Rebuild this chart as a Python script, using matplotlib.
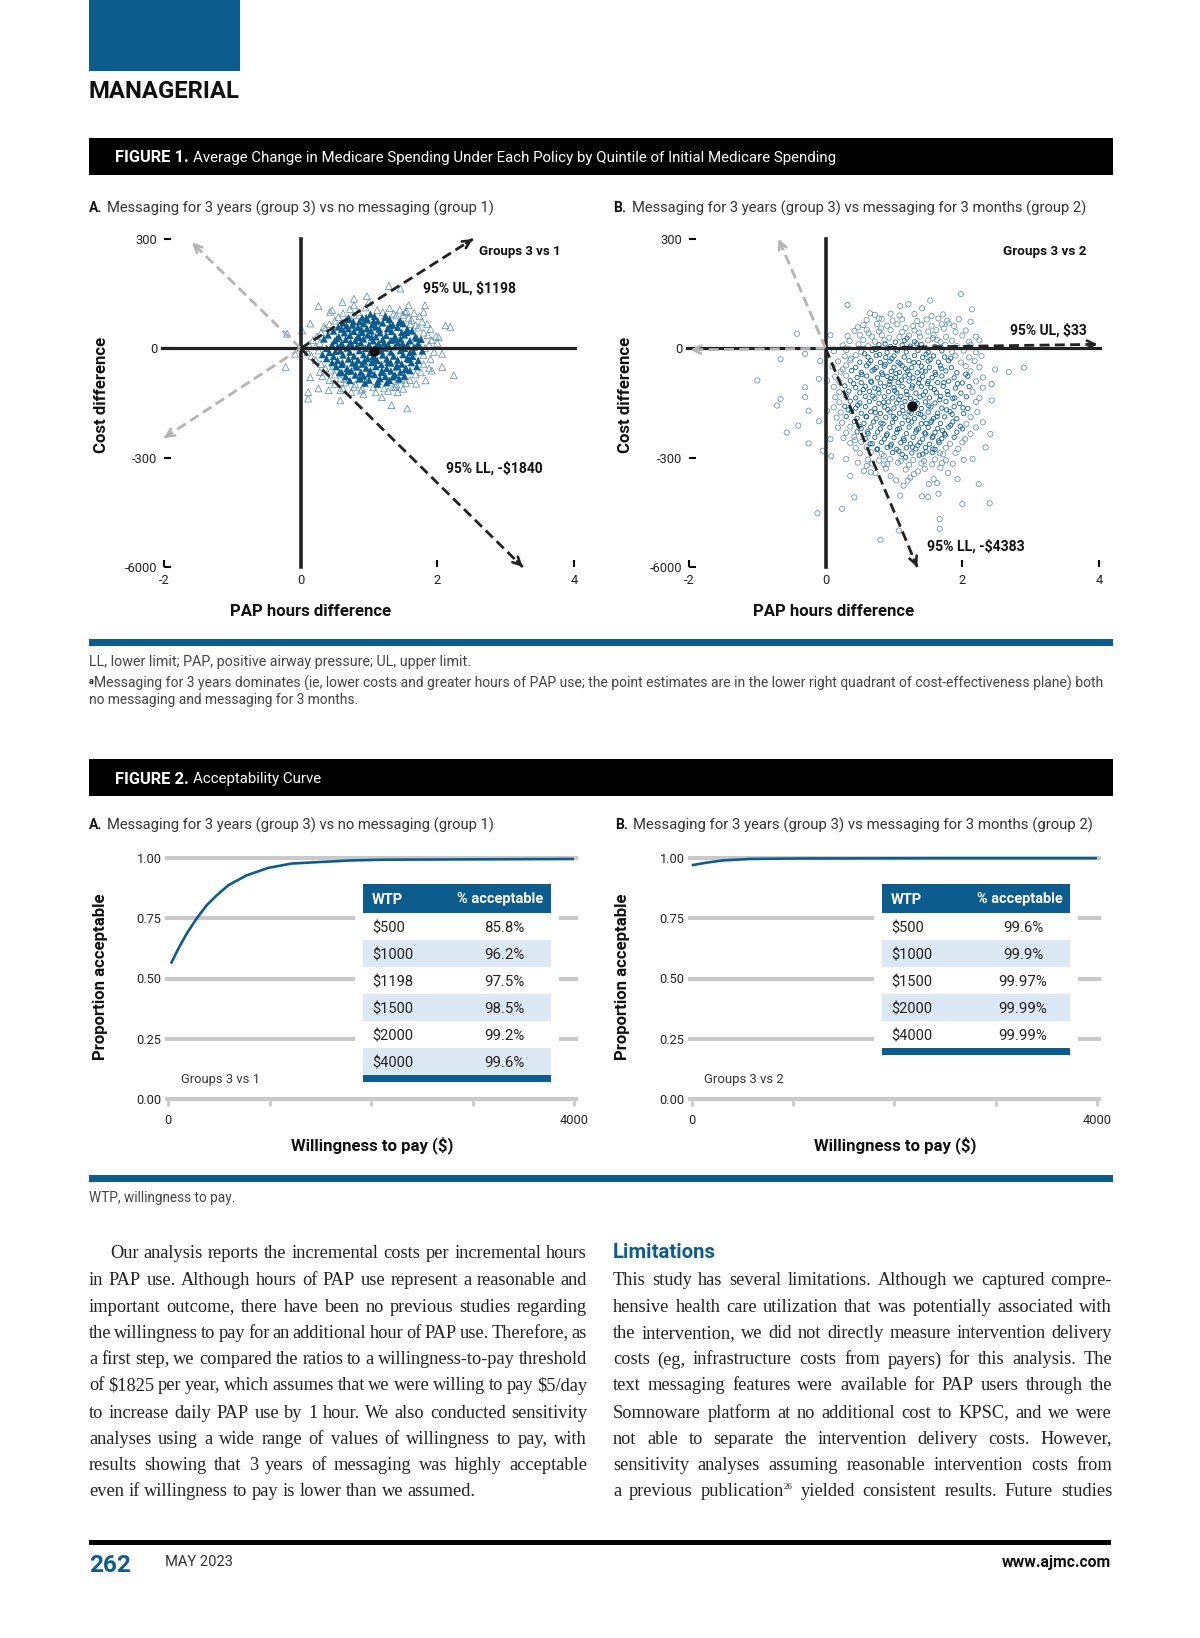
import numpy as np
import matplotlib
matplotlib.use('Agg')
import matplotlib.pyplot as plt
from matplotlib.patches import Rectangle

plt.rcParams['font.family'] = ['Roboto', 'DejaVu Sans']

W, H = 1200, 1638
BLUE = '#0d5c8e'
PALE = '#dce9f5'
GRID = '#c9c9c9'
DARK = '#222222'
ARROW_GREY = '#b4b4b4'
OUTER = '#5f8fac'

# ---- data ----
cost_ticks = [300, 0, -300, -6000]
cost_labels = ['300', '0', '-300', '-6000']
hour_ticks = [-2, 0, 2, 4]
hour_labels = ['-2', '0', '2', '4']

# point estimates (hours, cost)
mean_a = (1.07, -8)
mean_b = (1.26, -157)

# ends of the interval arrows (hours, cost)
ul_a = (2.52, 300)
ll_a = (3.25, -6000)
grey_a = [(-1.59, 290), (-2.0, -246)]
ul_b = (3.98, 11)
ll_b = (1.34, -6000)
grey_b = [(-0.69, 300), (-1.98, -4)]

# bootstrap replicates, group 3 vs 1
points_a = [
    (1.29,171),(1.46,164),(0.26,116),(0.61,127),(0.78,136),(0.97,143),(0.43,100),(0.46,105),(0.78,118),(1.0,127),
    (1.82,118),(1.80,100),(1.58,118),(1.53,100),(2.19,59),(2.12,63),(2.02,31),(2.24,-74),(2.07,-15),(2.07,-51),
    (1.92,-61),(1.69,-97),(1.83,-88),(-0.22,-51),(-0.2,40),(-0.08,-15),(0.02,49),(0.14,68),(0.14,-79),(0.11,-138),
    (0.11,-120),(0.26,-110),(0.41,-115),(0.58,-143),(0.58,-115),(0.92,-125),(1.19,-134),(1.33,-156),(1.56,-165),(1.39,-106),
    (0.34,59),(0.72,108),(0.95,112),(1.12,105),(1.3,110),(1.45,106),(1.55,102),(0.62,96),(0.84,100),(1.02,94),
    (1.2,99),(1.36,95),(1.5,92),(1.66,97),(0.55,86),(0.78,90),(0.9,84),(1.08,88),(1.25,85),(1.4,90),
    (1.58,84),(1.74,88),(0.5,76),(0.7,80),(0.86,74),(0.98,78),(1.13,75),(1.3,80),(1.46,74),(1.62,78),
    (1.78,73),(0.42,66),(0.62,70),(0.76,64),(0.92,68),(1.05,65),(1.2,70),(1.35,64),(1.5,68),(1.68,63),
    (1.85,67),(0.36,55),(0.55,59),(0.7,54),(0.84,58),(0.97,55),(1.1,59),(1.27,54),(1.42,58),(1.56,53),
    (1.72,57),(1.9,53),(0.3,44),(0.48,48),(0.64,43),(0.78,47),(0.9,44),(1.03,48),(1.16,43),(1.33,47),
    (1.48,44),(1.63,48),(1.8,43),(0.24,33),(0.4,37),(0.56,32),(0.72,36),(0.85,33),(0.98,37),(1.1,32),
    (1.25,36),(1.38,33),(1.52,37),(1.68,32),(1.86,36),(1.98,33),(0.18,22),(0.34,26),(0.5,21),(0.66,25),
    (0.8,22),(0.92,26),(1.06,21),(1.2,25),(1.32,22),(1.46,26),(1.6,21),(1.76,25),(1.92,22),(0.12,11),
    (0.28,15),(0.46,10),(0.6,14),(0.74,11),(0.88,15),(1.0,10),(1.14,14),(1.28,11),(1.42,15),(1.56,10),
    (1.72,14),(1.88,11),(2.0,15),(0.08,1),(0.22,5),(0.38,0),(0.54,4),(0.68,1),(0.82,5),(0.95,0),
    (1.1,4),(1.24,1),(1.38,5),(1.52,0),(1.66,4),(1.82,1),(0.1,-10),(0.26,-6),(0.42,-11),(0.58,-7),
    (0.72,-10),(0.86,-6),(1.02,-11),(1.18,-7),(1.32,-10),(1.46,-6),(1.6,-11),(1.78,-7),(1.95,-10),(0.16,-21),
    (0.32,-17),(0.48,-22),(0.62,-18),(0.78,-21),(0.92,-17),(1.06,-22),(1.2,-18),(1.36,-21),(1.5,-17),(1.64,-22),
    (1.8,-18),(0.22,-32),(0.38,-28),(0.54,-33),(0.7,-29),(0.84,-32),(0.98,-28),(1.12,-33),(1.26,-29),(1.42,-32),
    (1.56,-28),(1.72,-33),(1.9,-29),(0.3,-43),(0.46,-39),(0.6,-44),(0.76,-40),(0.9,-43),(1.04,-39),(1.18,-44),
    (1.32,-40),(1.48,-43),(1.62,-39),(1.8,-44),(0.36,-54),(0.52,-50),(0.68,-55),(0.82,-51),(0.96,-54),(1.1,-50),
    (1.26,-55),(1.4,-51),(1.54,-54),(1.7,-50),(1.88,-55),(0.28,-65),(0.44,-61),(0.6,-66),(0.74,-62),(0.88,-65),
    (1.02,-61),(1.18,-66),(1.32,-62),(1.46,-65),(1.6,-61),(1.76,-66),(0.32,-76),(0.5,-72),(0.66,-77),(0.8,-73),
    (0.92,-76),(1.08,-72),(1.24,-77),(1.38,-73),(1.52,-76),(1.68,-72),(0.42,-87),(0.58,-83),(0.72,-88),(0.86,-84),
    (1.0,-87),(1.16,-83),(1.3,-88),(1.44,-84),(1.6,-87),(0.5,-98),(0.66,-94),(0.8,-99),(0.94,-95),(1.12,-98),
    (1.26,-94),(1.4,-99),(1.54,-95),(0.62,-110),(0.78,-106),(0.9,-111),(1.06,-107),(1.22,-110),(1.36,-106),(1.5,-111),
    (0.74,-120),(0.88,-116),(1.1,-121),(1.28,-117),(1.42,-120),
    # second pass over the blob
    (0.53,27),(0.61,-39),(0.67,62),(0.69,-62),(0.73,17),(0.77,73),(0.81,-46),(0.83,30),(0.87,-81),(0.89,52),
    (0.93,-35),(0.96,84),(1.0,-70),(1.04,31),(1.07,74),(1.09,-29),(1.13,-90),(1.15,53),(1.19,-61),(1.22,15),
    (1.24,89),(1.28,-38),(1.31,63),(1.35,-78),(1.37,25),(1.41,-47),(1.44,72),(1.47,-88),(1.49,14),(1.53,-58),
    (1.55,44),(1.59,-30),(1.61,66),(1.65,-9),(1.7,28),(0.64,-85),(0.7,84),(0.57,-66),(0.6,53),(0.51,-8),
]

# bootstrap replicates, group 3 vs 2
points_b = [
    (0.32,119),(0.65,96),(0.78,82),(1.09,116),(1.21,121),(1.41,110),(1.53,131),(1.98,149),(2.14,107),(2.12,73),
    (1.8,68),(1.65,82),(-0.42,40),(0.07,36),(-0.66,-30),(-1.0,-88),(-0.66,-139),(-0.71,-157),(-0.3,-107),(-0.3,-134),
    (-0.25,-171),(-0.1,-200),(-0.4,-212),(-0.57,-231),(-0.25,-261),(-0.08,-35),(-0.3,-15),(-0.1,-84),(0.02,-88),(0.02,-171),
    (0.07,-249),(-0.04,-281),(0.08,-296),(2.9,-53),(2.68,-65),(2.48,-58),(2.43,-98),(2.43,-143),(2.41,-235),(2.34,-272),
    (0.36,-1250),(0.42,-2370),(0.24,-2970),(-0.12,-3200),(0.8,-4580),(1.07,-4100),(1.67,-3500),(1.67,-4010),(2.0,-2720),(2.4,-2680),
    (2.24,-1680),(1.93,-1420),(1.41,-2320),(1.65,-2180),(1.09,-2280),(1.63,-1620),(1.51,-1680),(1.29,-1160),(1.14,-1760),(0.6,-730),
    (0.56,-990),(0.95,-1250),(1.68,-820),(1.58,-1420),(1.24,-1340),(0.85,-650),
    (0.72,92),(0.95,95),(1.08,90),(1.3,94),(1.55,89),(1.72,93),(0.6,78),(0.82,81),(0.98,76),(1.12,80),
    (1.34,75),(1.48,79),(1.78,76),(1.95,80),(0.55,64),(0.75,67),(0.9,62),(1.05,66),(1.28,61),(1.4,65),
    (1.55,62),(1.7,66),(1.88,61),(0.42,48),(0.6,51),(0.78,46),(0.95,50),(1.12,45),(1.3,49),(1.5,46),
    (1.62,50),(1.9,45),(2.05,49),(0.32,34),(0.5,37),(0.68,32),(0.82,36),(1.08,31),(1.22,35),(1.38,32),
    (1.58,36),(1.76,31),(2.0,35),(2.2,32),(0.35,20),(0.55,23),(0.72,18),(0.86,22),(1.02,17),(1.15,21),
    (1.3,18),(1.5,22),(1.68,17),(1.85,21),(2.1,18),(2.25,22),(0.25,8),(0.48,11),(0.62,6),(0.78,10),
    (0.95,5),(1.12,9),(1.24,6),(1.4,10),(1.6,5),(1.75,9),(1.92,6),(2.12,10),(0.12,-8),(0.3,-5),
    (0.52,-10),(0.68,-6),(0.9,-11),(1.05,-7),(1.18,-10),(1.35,-6),(1.5,-11),(1.7,-7),(1.85,-10),(2.02,-6),
    (2.2,-11),(0.28,-22),(0.44,-19),(0.62,-24),(0.74,-20),(0.88,-25),(1.0,-21),(1.15,-24),(1.3,-20),(1.42,-25),
    (1.58,-21),(1.74,-24),(1.9,-20),(2.1,-25),(2.28,-21),(0.18,-36),(0.36,-33),(0.5,-38),(0.66,-34),(0.8,-39),
    (0.94,-35),(1.06,-38),(1.22,-34),(1.36,-39),(1.5,-35),(1.65,-38),(1.8,-34),(1.98,-39),(2.18,-35),(0.1,-50),
    (0.3,-47),(0.44,-52),(0.6,-48),(0.74,-53),(0.86,-49),(1.0,-52),(1.12,-48),(1.26,-53),(1.4,-49),(1.52,-52),
    (1.68,-48),(1.84,-53),(2.05,-49),(2.25,-52),(0.22,-64),(0.38,-61),(0.52,-66),(0.68,-62),(0.82,-67),(0.96,-63),
    (1.08,-66),(1.2,-62),(1.34,-67),(1.46,-63),(1.6,-66),(1.76,-62),(1.92,-67),(2.12,-63),(0.14,-78),(0.3,-75),
    (0.46,-80),(0.6,-76),(0.76,-81),(0.9,-77),(1.02,-80),(1.16,-76),(1.28,-81),(1.42,-77),(1.56,-80),(1.7,-76),
    (1.88,-81),(2.08,-77),(2.3,-80),(0.2,-92),(0.36,-89),(0.52,-94),(0.66,-90),(0.8,-95),(0.94,-91),(1.06,-94),
    (1.22,-90),(1.36,-95),(1.5,-91),(1.64,-94),(1.8,-90),(2.0,-95),(2.2,-91),(0.12,-106),(0.28,-103),(0.44,-108),
    (0.58,-104),(0.72,-109),(0.86,-105),(1.0,-108),(1.12,-104),(1.26,-109),(1.4,-105),(1.54,-108),(1.72,-104),(1.9,-109),
    (2.1,-105),(2.3,-108),(0.2,-120),(0.34,-117),(0.5,-122),(0.64,-118),(0.78,-123),(0.92,-119),(1.04,-122),(1.18,-118),
    (1.32,-123),(1.46,-119),(1.62,-122),(1.78,-118),(1.98,-123),(2.15,-119),(0.14,-134),(0.3,-131),(0.44,-136),(0.58,-132),
    (0.72,-137),(0.86,-133),(0.98,-136),(1.1,-132),(1.24,-137),(1.38,-133),(1.52,-136),(1.68,-132),(1.86,-137),(2.06,-133),
    (2.25,-136),(0.2,-148),(0.36,-145),(0.5,-150),(0.64,-146),(0.78,-151),(0.92,-147),(1.04,-150),(1.16,-146),(1.34,-151),
    (1.46,-147),(1.6,-150),(1.76,-146),(1.96,-151),(2.2,-147),(0.12,-162),(0.28,-159),(0.44,-164),(0.58,-160),(0.72,-165),
    (0.86,-161),(1.0,-164),(1.12,-160),(1.4,-165),(1.54,-161),(1.7,-164),(1.88,-160),(2.08,-165),(0.22,-176),(0.38,-173),
    (0.52,-178),(0.66,-174),(0.8,-179),(0.94,-175),(1.08,-178),(1.22,-174),(1.36,-179),(1.5,-175),(1.64,-178),(1.82,-174),
    (2.02,-179),(2.22,-175),(0.16,-190),(0.3,-187),(0.46,-192),(0.6,-188),(0.74,-193),(0.88,-189),(1.02,-192),(1.16,-188),
    (1.3,-193),(1.44,-189),(1.58,-192),(1.74,-188),(1.92,-193),(2.12,-189),(0.24,-204),(0.42,-201),(0.56,-206),(0.7,-202),
    (0.84,-207),(0.98,-203),(1.12,-206),(1.26,-202),(1.4,-207),(1.54,-203),(1.68,-206),(1.86,-202),(2.06,-207),(2.3,-203),
    (0.18,-218),(0.36,-215),(0.52,-220),(0.66,-216),(0.8,-221),(0.94,-217),(1.08,-220),(1.22,-216),(1.36,-221),(1.5,-217),
    (1.64,-220),(1.8,-216),(2.0,-221),(2.2,-217),(0.3,-232),(0.46,-229),(0.62,-234),(0.76,-230),(0.9,-235),(1.04,-231),
    (1.18,-234),(1.32,-230),(1.46,-235),(1.6,-231),(1.74,-234),(1.92,-230),(2.12,-235),(0.26,-246),(0.42,-243),(0.58,-248),
    (0.72,-244),(0.86,-249),(1.0,-245),(1.14,-248),(1.28,-244),(1.42,-249),(1.56,-245),(1.7,-248),(1.88,-244),(2.04,-249),
    (0.36,-260),(0.52,-257),(0.68,-262),(0.82,-258),(0.96,-263),(1.1,-259),(1.24,-262),(1.38,-258),(1.52,-263),(1.66,-259),
    (1.82,-262),(2.0,-258),(0.44,-274),(0.6,-271),(0.76,-276),(0.9,-272),(1.04,-277),(1.18,-273),(1.32,-276),(1.46,-272),
    (1.6,-277),(1.76,-273),(1.94,-276),(0.5,-288),(0.66,-285),(0.82,-290),(0.98,-286),(1.12,-291),(1.26,-287),(1.42,-290),
    (1.56,-286),(1.72,-291),(1.9,-287),(0.62,-400),(0.78,-450),(0.94,-380),(1.1,-470),(1.28,-420),(1.44,-480),(1.6,-390),
    (1.76,-440),(0.68,-600),(0.9,-640),(1.06,-560),(1.22,-680),(1.4,-600),(1.56,-650),(1.7,-580),
    # second pass over the crowded middle
    (0.63,-41),(0.71,-58),(0.79,-17),(0.83,-72),(0.87,-44),(0.93,-99),(0.97,-28),(1.01,-116),(1.03,-69),(1.07,-141),
    (1.09,-42),(1.11,-87),(1.13,-171),(1.17,-56),(1.19,-127),(1.21,-198),(1.23,-73),(1.27,-103),(1.29,-39),(1.31,-146),
    (1.33,-224),(1.37,-85),(1.39,-181),(1.41,-62),(1.43,-128),(1.47,-206),(1.49,-97),(1.51,-158),(1.53,-31),(1.57,-241),
    (1.59,-113),(1.61,-72),(1.63,-187),(1.67,-141),(1.69,-55),(1.71,-226),(1.73,-94),(1.77,-169),(1.79,-127),(1.83,-211),
    (0.67,-93),(0.69,-131),(0.73,-177),(0.77,-112),(0.81,-205),(0.85,-148),(0.89,-239),(0.91,-168),(0.95,-83),(0.99,-187),
    (1.05,-223),(1.15,-253),(1.25,-178),(1.35,-266),(1.45,-232),(1.55,-199),(1.65,-254),(1.75,-238),(0.59,-187),(0.55,-113),
    (0.61,-229),(0.53,-72),(0.65,-262),(0.47,-156),(0.75,-278),(0.49,-214),(0.85,-295),(0.41,-97),(0.95,-268),(1.07,-282),
    (1.17,-299),(1.27,-271),(1.37,-293),(1.47,-284),(1.57,-276),(1.67,-288),(1.85,-181),(1.89,-136),(1.93,-97),(1.97,-214),
    (2.01,-163),(2.05,-71),(0.25,-58),(0.33,-169),(0.37,-28),(0.43,-252),(0.57,-15),(0.73,-3),(0.87,12),(1.03,-4),
    (1.19,28),(1.33,13),(1.47,-16),(1.63,23),(1.83,-27),(0.47,58),(0.63,41),(0.81,55),(0.93,29),(1.17,56),
    (1.37,43),(1.57,28),(1.73,54),(0.73,-1100),(1.03,-1480),(1.35,-1020),(1.45,-880),(1.17,-920),(0.88,-870),(1.79,-1100),
    (0.66,-1070),(1.5,-2350),(1.2,-1500),(1.86,-620),(2.02,-410),(0.3,-380),(0.47,-560),(2.15,-360),
]

wtp_ticks = [0, 1000, 2000, 3000, 4000]
wtp_labels = ['0', '', '', '', '4000']
prop_ticks = [0, 0.25, 0.5, 0.75, 1.0]
prop_labels = ['0.00', '0.25', '0.50', '0.75', '1.00']

curve_a_wtp = [26, 99, 181, 279, 378, 477, 592, 772, 986, 1216, 1479, 1808, 2136, 2794, 3451, 4000]
curve_a_prop = [.562, .624, .686, .749, .804, .845, .887, .928, .959, .977, .983, .990, .993, .994, .995, .996]
curve_b_wtp = [0, 150, 310, 575, 1050, 1700, 2500, 4000]
curve_b_prop = [.970, .981, .990, .996, .998, .9985, .999, .999]

table_a_wtp = ['$500', '$1000', '$1198', '$1500', '$2000', '$4000']
table_a_acc = ['85.8%', '96.2%', '97.5%', '98.5%', '99.2%', '99.6%']
table_b_wtp = ['$500', '$1000', '$1500', '$2000', '$4000']
table_b_acc = ['99.6%', '99.9%', '99.97%', '99.99%', '99.99%']

left_col = [
    'Our analysis reports the incremental costs per incremental hours',
    'in PAP use. Although hours of PAP use represent a reasonable and',
    'important outcome, there have been no previous studies regarding',
    'the willingness to pay for an additional hour of PAP use. Therefore, as',
    'a first step, we compared the ratios to a willingness-to-pay threshold',
    'of $1825 per year, which assumes that we were willing to pay $5/day',
    'to increase daily PAP use by 1 hour. We also conducted sensitivity',
    'analyses using a wide range of values of willingness to pay, with',
    'results showing that 3 years of messaging was highly acceptable',
    'even if willingness to pay is lower than we assumed.',
]
right_col = [
    'This study has several limitations. Although we captured compre-',
    'hensive health care utilization that was potentially associated with',
    'the intervention, we did not directly measure intervention delivery',
    'costs (eg, infrastructure costs from payers) for this analysis. The',
    'text messaging features were available for PAP users through the',
    'Somnoware platform at no additional cost to KPSC, and we were',
    'not able to separate the intervention delivery costs. However,',
    'sensitivity analyses assuming reasonable intervention costs from',
    'a previous publication^26 yielded consistent results. Future studies',
]
line_y = [1254, 1280.5, 1307, 1333.5, 1360, 1386, 1413, 1439, 1466, 1492]

fig = plt.figure(figsize=(W / 100, H / 100), dpi=100, facecolor='white')
renderer = fig.canvas.get_renderer()


def box(x0, y0, x1, y1):
    # pixel box of the reference -> figure fractions
    return [x0 / W, 1 - y1 / H, (x1 - x0) / W, (y1 - y0) / H]


# page layer sits on top of the charts, so the tables can cut the gridlines
page = fig.add_axes([0, 0, 1, 1], zorder=5)
page.set_xlim(0, W)
page.set_ylim(H, 0)
page.axis('off')


def fit(x0, x1, y, s, size=10, **kw):
    # text squeezed to the width it has in the reference
    t = page.text(x0, y + 1, s, va='center', fontsize=size, **kw)
    w = t.get_window_extent(renderer).width
    t.set_fontsize(size * (x1 - x0) / w)
    return t


def rect(x0, y0, x1, y1, color):
    page.add_patch(Rectangle((x0, y0), x1 - x0, y1 - y0, fc=color, ec='none', zorder=1))


def justified(line, x0, x1, y, last=False):
    serif = dict(va='center', family='Liberation Serif', color=DARK)
    words = []
    for w in line.split():
        base, _, sup = w.partition('^')
        t = page.text(0, y, base, fontsize=13.2, **serif)
        s = page.text(0, y - 5, sup, fontsize=6.5, **serif) if sup else None
        wd = t.get_window_extent(renderer).width
        extra = s.get_window_extent(renderer).width if sup else 0
        words.append((t, s, wd, extra))
    total = sum(w[2] + w[3] for w in words)
    gap = 4.5 if last else (x1 - x0 - total) / (len(words) - 1)
    x = x0
    for t, s, wd, extra in words:
        t.set_x(x)
        if s is not None:
            s.set_x(x + wd)
        x += wd + extra + gap


cost_fwd = lambda v: np.interp(v, [-6000, -300, 300], [-600, -300, 300])
cost_inv = lambda v: np.interp(v, [-600, -300, 300], [-6000, -300, 300])


def ce_plane(rect_px, pts, marker, size, mean, black_ends, grey_ends, centre, radii, filled):
    ax = fig.add_axes(box(*rect_px))
    ax.set_xlim(-2, 4)
    ax.set_yscale('function', functions=(cost_fwd, cost_inv))
    ax.set_ylim(-6000, 300)
    for s in ax.spines.values():
        s.set_visible(False)
    ax.patch.set_alpha(0)
    ax.set_xticks(hour_ticks, hour_labels)
    ax.set_yticks(cost_ticks, cost_labels)
    ax.minorticks_off()
    ax.tick_params(direction='in', length=5, width=1.5, color='black', labelsize=9.3, labelcolor=DARK, pad=5)
    ax.plot([-2.03, 4.02], [0, 0], color=DARK, lw=2.3, clip_on=False, zorder=3)
    ax.plot([0, 0], [-6000, 300], color=DARK, lw=2.6, clip_on=False, zorder=3)
    h, c = np.array(pts).T
    # the crowded middle prints darker than the stragglers
    mid = ((h - centre[0]) / radii[0]) ** 2 + ((c - centre[1]) / radii[1]) ** 2 < 1
    ax.scatter(h[~mid], c[~mid], marker=marker, s=size, facecolor='none', edgecolor=OUTER, linewidth=0.55, zorder=2)
    if filled:
        ax.scatter(h[mid], c[mid], marker=marker, s=size * 1.25, facecolor=BLUE, edgecolor='none', zorder=2.1)
    else:
        ax.scatter(h[mid], c[mid], marker=marker, s=size * 0.7, facecolor='none', edgecolor=BLUE, linewidth=0.6, zorder=2.1)
    to_px = ax.transData.transform
    for ends, col in [(grey_ends, ARROW_GREY), (black_ends, DARK)]:
        for e in ends:
            ax.plot([0, e[0]], [0, e[1]], color=col, lw=2.0, dashes=(3.6, 1.9), clip_on=False, zorder=4)
            # solid head only, the shaft is dashed
            a, b = to_px((0, 0)), to_px(e)
            near = b - (b - a) / np.hypot(*(b - a)) * 8
            ax.annotate('', xy=e, xytext=near, textcoords='figure pixels', annotation_clip=False, zorder=5,
                        arrowprops=dict(arrowstyle='->', color=col, lw=1.9, mutation_scale=14, shrinkA=0, shrinkB=0))
    ax.plot(*mean, 'o', color='#111111', ms=6.5, zorder=6)
    return ax


ce_plane((164, 239, 574, 567), points_a, '^', 24, mean_a, [ul_a, ll_a], grey_a, (1.05, -2), (0.76, 98), True)
ce_plane((689, 239, 1099, 567), points_b, 'o', 14, mean_b, [ul_b, ll_b], grey_b, (1.2, -135), (0.95, 165), False)


def accept(rect_px, xlim, wtp, prop):
    ax = fig.add_axes(box(*rect_px))
    ax.set_xlim(*xlim)
    ax.set_ylim(0, 1)
    for s in ax.spines.values():
        s.set_visible(False)
    ax.patch.set_alpha(0)
    ax.set_xticks(wtp_ticks, wtp_labels)
    ax.set_yticks(prop_ticks, prop_labels)
    ax.tick_params(axis='x', length=5, width=1.9, color=GRID, labelsize=9.2, labelcolor=DARK, pad=6)
    ax.tick_params(axis='y', length=0, labelsize=9.2, labelcolor=DARK, pad=4)
    ax.grid(axis='y', color=GRID, lw=2.9)
    ax.grid(axis='x', visible=False)
    ax.set_axisbelow(True)
    for g in ax.get_ygridlines():
        g.set_clip_on(False)
    ax.plot(wtp, prop, color=BLUE, lw=1.9, clip_on=False, solid_capstyle='butt')
    return ax


accept((167, 858, 576, 1099), (-13, 4020), curve_a_wtp, curve_a_prop)
accept((690, 858, 1099, 1099), (-17, 4020), curve_b_wtp, curve_b_prop)


def wtp_table(x0, x1, wtp, acc, xw, xh0, xh1, xv):
    rect(x0 - 8, 884, x1 + 8, 912 + 27 * len(wtp) + 7, 'white')
    rect(x0, 884, x1, 913, BLUE)
    page.text(xw, 903.5, 'WTP', color='white', fontweight='bold', fontsize=10.5, zorder=2)
    t = fit(xh0, xh1, 898.5, '% acceptable', color='white', fontweight='bold', zorder=2)
    t.set_va('baseline')
    t.set_y(903.5)
    for i, (a, b) in enumerate(zip(wtp, acc)):
        y = 913 + 27 * i
        if i % 2:
            rect(x0, y, x1, y + 27, PALE)
        page.text(xw, y + 19.4, a, color=DARK, fontsize=10.5, zorder=2)
        page.text(xv, y + 19.4, b, color=DARK, fontsize=10.8, ha='center', zorder=2)
    y = 913 + 27 * len(wtp)
    rect(x0, y, x1, y + 7, BLUE)


wtp_table(363, 551, table_a_wtp, table_a_acc, 372, 457, 544, 504)
wtp_table(882, 1070, table_b_wtp, table_b_acc, 891, 977, 1063, 1023)

# ---- page furniture ----
rect(89, 0, 240, 71, BLUE)
fit(89, 240, 91, 'MANAGERIAL', size=16, fontweight='bold', color='#111111')

for y0, num, title, x1 in [(138, 'FIGURE 1.', 'Average Change in Medicare Spending Under Each Policy by Quintile of Initial Medicare Spending', 835),
                           (759, 'FIGURE 2.', 'Acceptability Curve', 321)]:
    rect(89, y0, 1113, y0 + 37, 'black')
    fit(115, 189, y0 + 19, num, fontweight='bold', color='white', zorder=2)
    fit(193, x1, y0 + 19, title, color='white', zorder=2)

head_a = 'Messaging for 3 years (group 3) vs no messaging (group 1)'
head_b = 'Messaging for 3 years (group 3) vs messaging for 3 months (group 2)'
for y, xb, xt0, xt1 in [(207, 613, 632, 1090), (824, 615, 633, 1093)]:
    page.text(89, y + 1, 'A.', fontweight='bold', fontsize=10, va='center', color='#111111')
    fit(107, 496, y, head_a, color='#333333')
    page.text(xb, y + 1, 'B.', fontweight='bold', fontsize=10, va='center', color='#111111')
    fit(xt0, xt1, y, head_b, color='#333333')

bold_label = dict(ha='center', va='center', fontweight='bold', fontsize=12.1, color='#111111')
for x in (102, 626):
    page.text(x, 395, 'Cost difference', rotation=90, **bold_label)
for x in (311, 834):
    page.text(x, 611, 'PAP hours difference', **bold_label)
for x in (100, 623):
    page.text(x, 977, 'Proportion acceptable', rotation=90, **bold_label)
for x in (372, 895):
    page.text(x, 1145, 'Willingness to pay ($)', **bold_label)

fit(479, 561, 251, 'Groups 3 vs 1', fontweight='bold', color='#111111')
fit(423, 516, 287, '95% UL, $1198', fontweight='bold', color='#111111')
fit(446, 543, 467, '95% LL, -$1840', fontweight='bold', color='#111111')
fit(1003, 1086, 251, 'Groups 3 vs 2', fontweight='bold', color='#111111')
fit(1010, 1087, 329, '95% UL, $33', fontweight='bold', color='#111111')
fit(927, 1024, 545, '95% LL, -$4383', fontweight='bold', color='#111111')
fit(181, 260, 1079, 'Groups 3 vs 1', color='#333333')
fit(704, 784, 1079, 'Groups 3 vs 2', color='#333333')

rect(89, 639, 1113, 646, BLUE)
rect(89, 1175, 1113, 1182, BLUE)

fit(89, 470, 661, 'LL, lower limit; PAP, positive airway pressure; UL, upper limit.', color='#444444')
page.text(89, 681, 'a', fontsize=6.5, fontweight='bold', va='center', color='#222222')
fit(94, 1102, 682, 'Messaging for 3 years dominates (ie, lower costs and greater hours of PAP use; the point estimates are in the lower right quadrant of cost-effectiveness plane) both', color='#444444')
fit(89, 358, 699, 'no messaging and messaging for 3 months.', color='#444444')
fit(89, 235, 1197, 'WTP, willingness to pay.', color='#444444')

# ---- running text ----
for i, (line, y) in enumerate(zip(left_col, line_y)):
    justified(line, 110 if i == 0 else 89, 587, y, last=i == len(left_col) - 1)
page.text(613, 1252, 'Limitations', fontsize=14.7, fontweight='bold', color=BLUE, va='center')
for line, y in zip(right_col, line_y[1:]):
    justified(line, 613, 1112, y)

rect(89, 1540, 1111, 1545, 'black')
page.text(89, 1566, '262', fontsize=17.5, fontweight='bold', color=BLUE, va='center')
fit(165, 233, 1561, 'MAY 2023', color='#333333')
page.text(1111, 1562, 'www.ajmc.com', fontsize=11.3, fontweight='bold', ha='right', va='center', color='#111111')

fig.savefig('out.png', dpi=100, facecolor='white')
